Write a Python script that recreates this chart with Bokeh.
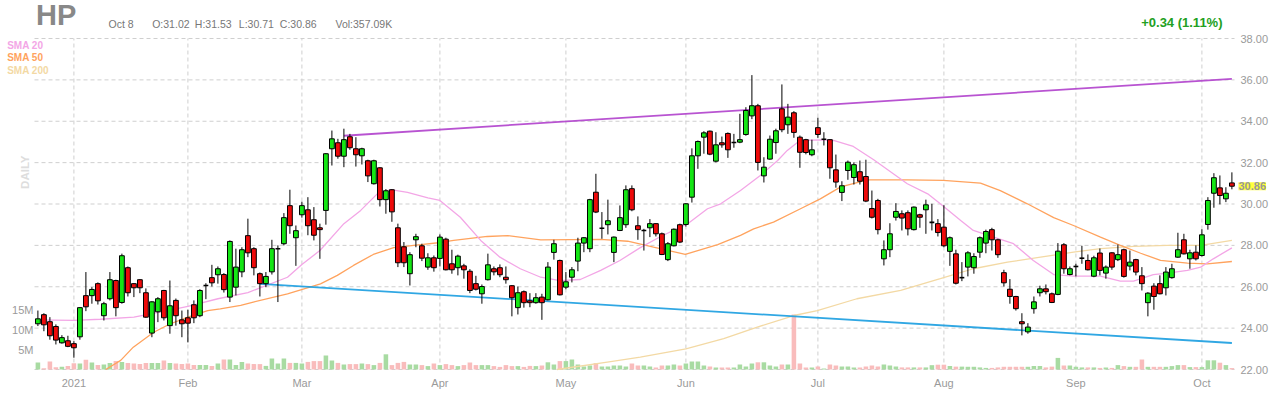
from bokeh.plotting import figure
from bokeh.models import Range1d, LinearAxis, FixedTicker, Label, PrintfTickFormatter
from bokeh.embed import file_html
from bokeh.resources import INLINE
import math

# ---------------- data (trading-session index 0 = 2020-12-23 ... 199 = 2021-10-08) ----------------
opens = [24.21, 24.65, 24.31, 24.08, 23.29, 23.39, 23.25, 23.58, 25.57, 25.57,
         26.15, 24.60, 25.42, 26.30, 25.24, 26.92, 26.15, 26.34, 25.71, 23.76,
         24.79, 25.82, 24.12, 25.34, 24.40, 24.50, 25.13, 24.60, 26.06, 26.44,
         26.58, 26.59, 25.50, 25.98, 26.72, 28.47, 27.84, 26.63, 26.15, 26.72,
         27.84, 28.08, 29.92, 28.37, 29.48, 29.72, 29.24, 28.85, 29.69, 32.67,
         32.96, 32.31, 33.25, 32.67, 32.33, 32.09, 30.98, 31.75, 30.21, 30.69,
         28.85, 27.93, 26.63, 28.27, 27.98, 26.95, 27.40, 27.37, 28.30, 27.11,
         26.92, 27.01, 26.75, 26.15, 25.66, 26.34, 26.87, 26.92, 26.46, 26.05,
         24.99, 25.76, 25.32, 25.23, 25.50, 25.37, 27.66, 27.27, 25.98, 26.46,
         27.24, 28.11, 27.84, 30.57, 28.83, 29.00, 27.66, 28.72, 29.00, 30.74,
         28.95, 28.72, 28.85, 29.05, 28.56, 27.31, 27.98, 29.00, 29.01, 30.33,
         32.33, 33.23, 33.52, 32.07, 32.96, 33.41, 32.97, 32.99, 33.36, 34.26,
         34.75, 31.36, 32.17, 32.97, 34.60, 33.83, 34.41, 33.23, 33.11, 32.38,
         33.69, 33.13, 33.11, 31.65, 30.56, 31.62, 31.28, 31.56, 31.33, 29.78,
         30.17, 27.35, 27.79, 29.36, 29.53, 29.58, 28.76, 29.48, 29.72, 29.11,
         29.05, 28.88, 27.71, 27.59, 26.44, 26.95, 26.92, 27.67, 28.11, 28.76,
         28.27, 26.68, 25.88, 25.53, 24.31, 23.82, 24.94, 25.71, 25.90, 25.66,
         25.63, 28.03, 26.59, 26.98, 27.38, 27.27, 26.51, 27.63, 26.66, 27.64,
         27.31, 27.79, 27.00, 27.31, 26.53, 25.23, 26.03, 26.15, 25.95, 26.44,
         27.43, 28.27, 27.35, 27.67, 27.51, 29.01, 30.52, 30.78, 30.25, 31.02]
highs = [24.85, 24.72, 24.53, 24.18, 23.66, 23.63, 23.37, 25.01, 26.71, 25.98,
         26.21, 25.27, 26.71, 26.34, 27.60, 26.98, 26.17, 26.37, 25.92, 25.30,
         25.50, 25.85, 26.30, 25.43, 24.85, 24.89, 25.34, 25.88, 26.17, 27.06,
         26.98, 26.66, 28.24, 27.84, 27.91, 29.29, 27.91, 26.69, 26.71, 28.27,
         28.00, 29.56, 30.69, 28.96, 30.11, 30.33, 29.85, 29.05, 32.46, 33.55,
         33.15, 33.64, 33.39, 33.23, 32.72, 32.14, 32.14, 31.78, 30.72, 30.72,
         29.05, 28.16, 27.67, 28.56, 28.08, 27.62, 27.51, 28.53, 28.37, 27.79,
         27.55, 27.11, 26.85, 26.53, 26.11, 27.60, 26.98, 27.08, 26.98, 26.08,
         26.01, 25.82, 25.69, 25.69, 25.66, 27.19, 28.27, 27.31, 26.71, 26.95,
         28.37, 28.40, 30.25, 31.46, 29.61, 30.21, 28.43, 29.93, 30.90, 30.90,
         29.40, 28.80, 29.27, 29.07, 28.62, 28.16, 28.82, 29.05, 30.04, 32.69,
         33.07, 33.52, 33.55, 33.47, 33.26, 33.46, 33.39, 34.36, 34.68, 36.23,
         34.84, 32.26, 33.31, 33.64, 35.78, 34.84, 34.49, 33.31, 33.15, 33.11,
         34.17, 33.47, 33.13, 32.39, 31.10, 32.10, 32.01, 32.10, 32.14, 30.65,
         30.25, 28.24, 29.07, 30.04, 29.69, 29.69, 29.88, 29.53, 30.21, 30.01,
         29.27, 29.94, 28.43, 27.79, 27.19, 27.72, 27.62, 28.43, 28.76, 28.85,
         28.32, 26.82, 26.37, 25.56, 24.72, 24.24, 25.53, 26.05, 26.11, 25.72,
         28.11, 28.11, 26.98, 27.11, 27.98, 27.56, 27.50, 27.85, 27.03, 27.67,
         28.04, 27.84, 27.75, 27.35, 26.95, 25.74, 26.17, 26.55, 26.95, 27.11,
         28.61, 28.56, 27.79, 28.00, 28.78, 30.33, 31.49, 31.38, 30.81, 31.53]
lows = [24.10, 23.85, 23.44, 23.21, 23.25, 23.08, 22.57, 23.44, 24.82, 25.18,
        25.14, 24.37, 25.34, 24.57, 25.18, 25.53, 25.50, 25.69, 24.50, 23.56,
        24.29, 24.37, 23.73, 24.12, 23.56, 23.31, 24.24, 24.53, 25.40, 26.01,
        26.15, 25.72, 25.26, 25.58, 26.46, 27.43, 26.55, 25.53, 25.98, 26.59,
        25.26, 28.00, 28.56, 27.01, 29.34, 28.49, 28.24, 27.35, 29.00, 31.86,
        32.19, 31.78, 32.62, 31.81, 31.91, 31.06, 30.94, 29.88, 29.53, 29.14,
        26.95, 26.95, 26.06, 27.91, 27.24, 26.82, 26.73, 26.98, 26.79, 26.63,
        26.55, 26.39, 25.69, 25.82, 25.18, 26.30, 26.55, 26.46, 26.15, 24.57,
        24.66, 24.99, 25.01, 25.18, 24.40, 25.34, 27.31, 25.58, 25.88, 26.21,
        26.75, 27.67, 27.67, 29.56, 28.32, 28.53, 27.19, 28.69, 28.85, 29.65,
        28.27, 27.75, 28.40, 28.43, 27.53, 27.24, 27.95, 28.11, 28.91, 30.07,
        31.70, 32.43, 32.36, 32.01, 32.72, 32.23, 32.72, 32.94, 33.30, 34.10,
        31.62, 31.04, 32.14, 32.43, 33.47, 33.39, 33.20, 31.75, 32.40, 32.31,
        33.20, 32.83, 31.22, 30.79, 30.14, 31.17, 30.94, 30.94, 30.09, 29.30,
        28.53, 27.03, 27.43, 29.20, 28.72, 28.48, 28.72, 28.85, 28.56, 28.72,
        28.43, 27.91, 27.01, 26.11, 26.27, 26.50, 26.63, 27.40, 27.62, 27.75,
        27.40, 26.01, 25.18, 24.85, 23.65, 23.73, 24.70, 25.53, 25.63, 25.21,
        25.59, 26.63, 26.55, 26.50, 27.11, 26.79, 26.46, 26.55, 26.39, 26.82,
        27.24, 26.44, 26.79, 26.55, 25.82, 24.57, 24.89, 25.63, 25.58, 26.39,
        27.40, 27.56, 26.87, 27.27, 27.46, 28.76, 29.82, 29.98, 30.09, 30.71]
closes = [24.45, 24.16, 23.63, 23.42, 23.54, 23.12, 23.05, 24.99, 25.03, 25.87,
          25.32, 25.18, 26.34, 24.99, 27.50, 25.71, 25.95, 25.95, 24.53, 25.27,
          25.42, 24.50, 25.08, 24.60, 24.21, 24.24, 24.50, 25.82, 26.06, 26.19,
          26.87, 25.86, 28.19, 26.95, 27.79, 27.64, 26.92, 26.15, 26.50, 27.84,
          27.84, 29.34, 28.95, 28.71, 29.92, 28.95, 28.49, 28.76, 32.43, 33.15,
          32.31, 33.11, 32.72, 32.38, 32.67, 31.36, 32.09, 30.21, 30.64, 29.62,
          27.16, 27.16, 27.55, 28.42, 27.38, 27.40, 26.92, 28.40, 26.82, 26.82,
          27.48, 26.82, 25.82, 25.88, 26.01, 27.06, 26.72, 26.58, 26.34, 25.47,
          25.71, 25.23, 25.23, 25.47, 25.23, 26.95, 28.08, 25.61, 26.24, 26.82,
          28.11, 28.37, 30.21, 29.61, 28.83, 29.19, 28.40, 29.34, 30.69, 29.72,
          28.76, 28.72, 29.05, 28.56, 27.56, 28.08, 28.78, 28.16, 30.01, 32.33,
          33.02, 33.44, 32.41, 32.86, 32.86, 32.62, 32.97, 33.11, 34.52, 34.75,
          32.01, 31.78, 33.13, 33.54, 33.59, 34.20, 33.46, 32.50, 32.49, 32.62,
          33.36, 33.13, 31.75, 31.06, 30.88, 32.02, 31.90, 31.10, 30.14, 29.36,
          28.76, 27.79, 28.56, 29.64, 29.32, 28.80, 29.85, 29.36, 29.96, 29.11,
          28.62, 27.98, 28.37, 26.17, 26.44, 27.64, 27.46, 28.37, 28.67, 28.27,
          27.55, 26.19, 25.53, 24.94, 24.21, 24.05, 25.27, 25.90, 25.76, 25.24,
          27.72, 26.87, 26.87, 26.98, 27.38, 26.82, 27.40, 26.79, 26.95, 26.95,
          27.55, 26.50, 27.19, 26.71, 26.15, 25.69, 25.53, 25.66, 26.71, 26.87,
          27.79, 27.59, 27.64, 27.35, 28.51, 30.17, 31.27, 30.41, 30.52, 30.86]
volumes_m = [1.75, 0.3, 2.0, 0.55, 0.7, 0.85, 1.55, 1.5, 2.45, 1.75,
             1.1, 1.25, 1.65, 2.1, 1.9, 1.65, 1.5, 1.35, 1.65, 1.65,
             1.65, 2.25, 1.65, 1.5, 1.35, 1.5, 1.1, 1.1, 1.1, 0.85,
             1.5, 2.5, 2.5, 1.1, 1.9, 1.5, 1.35, 1.35, 0.9, 2.75,
             1.5, 2.75, 1.65, 1.65, 1.5, 1.9, 2.1, 2.1, 3.5, 2.25,
             1.65, 1.25, 1.35, 1.35, 1.5, 1.35, 1.1, 1.65, 3.8, 1.1,
             1.65, 1.9, 1.25, 1.25, 1.1, 0.85, 1.5, 1.1, 1.35, 1.1,
             0.85, 1.1, 1.75, 1.1, 1.1, 1.1, 0.85, 0.65, 1.1, 0.85,
             0.85, 0.65, 0.9, 0.85, 1.0, 1.8, 1.25, 2.1, 2.1, 2.5,
             1.25, 0.75, 1.0, 1.6, 0.75, 0.75, 1.0, 1.0, 0.75, 1.5,
             1.0, 1.0, 0.75, 0.5, 1.0, 1.0, 1.25, 1.0, 1.5, 2.0,
             2.0, 1.0, 0.75, 0.5, 0.5, 0.5, 0.5, 1.25, 0.75, 1.5,
             1.8, 1.8, 1.0, 0.75, 1.25, 1.25, 13.75, 1.5, 0.5, 0.5,
             0.75, 0.25, 1.25, 1.0, 0.75, 0.75, 0.5, 0.5, 0.75, 1.0,
             0.75, 1.25, 1.0, 0.75, 0.52, 0.52, 0.52, 0.52, 0.52, 1.08,
             1.2, 1.2, 0.88, 0.72, 0.72, 0.68, 0.68, 0.52, 0.4, 0.4,
             0.52, 0.68, 0.68, 0.68, 0.68, 0.68, 0.88, 0.88, 0.52, 0.72,
             2.9, 1.0, 1.0, 0.68, 0.52, 0.52, 0.52, 0.4, 0.5, 0.4,
             1.1, 0.85, 0.67, 0.67, 2.5, 0.67, 0.67, 0.67, 0.67, 0.85,
             1.1, 1.1, 0.6, 0.6, 0.6, 2.3, 2.3, 1.7, 1.1, 0.35709]

month_start_idx = [6, 25, 44, 67, 88, 108, 130, 151, 173, 194]
month_labels = ["2021", "Feb", "Mar", "Apr", "May", "Jun", "Jul", "Aug", "Sep", "Oct"]
last_session_label = "Oct 8"
ticker_symbol = "HP"

sma20_idx = [-0.5, 6, 10.4, 16, 21.6, 25, 30, 35, 41.6, 44, 47, 51, 53.8, 56.6, 58.8, 61.6, 65, 67,
             70.4, 73.8, 77, 80.4, 83.8, 87, 90.4, 93.8, 97, 100.4, 103.8, 108.3, 111.6, 113.8, 117.1,
             120.4, 123.3, 124.9, 127, 130.4, 132.6, 135.9, 139.3, 144.9, 148.3, 150.4, 153.8, 155.9,
             159.3, 162.6, 165.9, 169.3, 172.6, 177.1, 180.4, 182.6, 185.9, 188.3, 191.6, 193.8, 195.9, 199]
sma20_val = [24.40, 24.37, 24.43, 24.53, 24.85, 25.05, 25.42, 25.72, 26.46, 27.08, 27.75, 29.05, 29.69,
             30.50, 30.69, 30.56, 30.30, 30.17, 29.36, 28.24, 27.43, 26.87, 26.46, 26.30, 26.35, 26.79,
             27.27, 27.89, 28.43, 29.05, 29.77, 30.01, 30.65, 31.38, 32.10, 32.59, 33.07, 33.10, 33.07,
             32.78, 32.14, 30.98, 30.49, 30.01, 29.20, 28.72, 28.40, 28.08, 27.27, 26.59, 26.51, 26.51,
             26.27, 26.27, 26.59, 26.66, 26.79, 26.95, 27.35, 27.88]
sma50_idx = [11.3, 13.8, 15.9, 19.3, 22, 25, 28.3, 30.4, 33.8, 35.9, 41.6, 47.1, 49.9, 52.6, 55.9,
             59.3, 63.8, 67.1, 69.3, 74.9, 78.3, 83.8, 93.8, 98.3, 102.6, 107.9, 113.3, 117.1, 119.3,
             122.6, 127.1, 130.4, 133.8, 138.3, 144.9, 150.9, 157.1, 160.4, 164.9, 169.3, 172.6, 177.1,
             180.4, 183.8, 187.1, 191.6, 194.9, 199]
sma50_val = [22.00, 22.44, 23.08, 23.80, 24.20, 24.53, 24.85, 24.93, 25.10, 25.26, 25.66, 26.14,
             26.55, 27.03, 27.56, 27.89, 28.04, 28.14, 28.24, 28.43, 28.47, 28.27, 28.29, 28.20, 27.91,
             27.56, 28.04, 28.48, 28.80, 29.12, 29.77, 30.25, 30.83, 31.17, 31.17, 31.14, 31.01, 30.65,
             30.01, 29.34, 28.96, 28.40, 28.00, 27.62, 27.27, 27.14, 27.11, 27.22]
sma200_idx = [86.5, 94.9, 100.4, 108.0, 114.3, 119.9, 126.0, 129.9, 136.5, 143.8, 150.4, 155.9,
              161.6, 167.1, 172.6, 177.1, 182.6, 188.3, 193.8, 199]
sma200_val = [22.00, 22.36, 22.60, 23.00, 23.49, 24.05, 24.61, 24.85, 25.42, 25.82, 26.39, 26.87,
              27.19, 27.43, 27.67, 27.84, 27.95, 28.00, 28.00, 28.24]
resistance_idx = [51, 199]
resistance_val = [33.30, 36.05]
support_idx = [37, 199]
support_val = [26.14, 23.28]

price_ticks = [22, 24, 26, 28, 30, 32, 34, 36, 38]
vol_ticks = [5, 10, 15]
vol_tick_labels = ["5M", "10M", "15M"]

# ---------------- styling ----------------
FONT = "Liberation Sans"
UP, DOWN = "#14e614", "#ee0a0a"
VUP, VDOWN = "#a8dba2", "#f9bcbc"
C20, C50, C200 = "#f3a6e6", "#ffa35e", "#f3d9a4"
GRID = "#cfcfcf"

W, H = 1280, 400
PX_X = 6.0                # pixels per session
PX_Y = 331 / 16           # pixels per price unit
X0 = -37.4 / PX_X         # session value at the figure's left edge
x_lo, x_hi = X0, X0 + W / PX_X
y_lo, y_hi = 22 - 31 / PX_Y, 38 + 38 / PX_Y
x_left_edge = X0 + 34 / PX_X       # left edge of the price area
x_right_edge = X0 + 1234 / PX_X    # right edge of the price area

n = len(closes)
idx = list(range(n))

p = figure(width=W, height=H, x_range=Range1d(x_lo, x_hi), y_range=Range1d(y_lo, y_hi),
           y_axis_location="right", output_backend="svg", toolbar_location=None,
           min_border=0, min_border_left=0, min_border_right=0, min_border_top=0, min_border_bottom=0)
p.extra_y_ranges = {"vol": Range1d(-31 / 4, 369 / 4)}
p.outline_line_color = None
p.background_fill_color = "white"
p.border_fill_color = "white"
p.xgrid.visible = False
p.ygrid.visible = False

# axes (drawn at fixed locations at the edges of the price area)
xa = p.xaxis[0]
xa.ticker = FixedTicker(ticks=month_start_idx)
xa.major_label_overrides = {m: l for m, l in zip(month_start_idx, month_labels)}
xa.major_label_standoff = 7
xa.fixed_location = 22

ya = p.yaxis[0]
ya.ticker = FixedTicker(ticks=price_ticks)
ya.formatter = PrintfTickFormatter(format="%.2f")
ya.major_label_standoff = 6
ya.fixed_location = x_right_edge

va = LinearAxis(y_range_name="vol", ticker=FixedTicker(ticks=vol_ticks),
                major_label_overrides={t: l for t, l in zip(vol_ticks, vol_tick_labels)},
                fixed_location=x_left_edge)
p.add_layout(va, "left")
va.major_label_standoff = 1

for ax in [xa, ya, va]:
    ax.axis_line_color = None
    ax.major_tick_line_color = None
    ax.minor_tick_line_color = None
    ax.major_tick_out = 0
    ax.major_tick_in = 0
    ax.minor_tick_out = 0
    ax.minor_tick_in = 0
    ax.major_label_text_color = "#9a9a9a"
    ax.major_label_text_font = FONT
    ax.major_label_text_font_size = "11px"

# dashed grid restricted to the price area
p.segment(x0=[x_left_edge] * len(price_ticks), x1=[x_right_edge] * len(price_ticks),
          y0=price_ticks, y1=price_ticks, line_color=GRID, line_dash="4 3", line_width=1)
p.segment(x0=month_start_idx, x1=month_start_idx, y0=[22] * len(month_start_idx),
          y1=[38] * len(month_start_idx), line_color=GRID, line_dash="4 3", line_width=1)

# volume
vol_colors = [VUP if c >= o else VDOWN for o, c in zip(opens, closes)]
p.vbar(x=idx, top=volumes_m, bottom=0, width=0.76, y_range_name="vol",
       fill_color=vol_colors, line_color=None)

# moving averages & trend lines
p.line(sma200_idx, sma200_val, line_color=C200, line_width=1.3)
p.line(sma50_idx, sma50_val, line_color=C50, line_width=1.3)
p.line(sma20_idx, sma20_val, line_color=C20, line_width=1.3)
p.line(resistance_idx, resistance_val, line_color="#b040cc", line_width=1.8, line_alpha=0.9)
p.line(support_idx, support_val, line_color="#1a9de0", line_width=1.8, line_alpha=0.9)

# candles
p.segment(x0=idx, y0=lows, x1=idx, y1=highs, line_color="black", line_width=1)
body_x = [i for i in idx if opens[i] != closes[i]]
p.vbar(x=body_x, top=[max(opens[i], closes[i]) for i in body_x],
       bottom=[min(opens[i], closes[i]) for i in body_x], width=0.8,
       fill_color=[UP if closes[i] > opens[i] else DOWN for i in body_x],
       line_color="black", line_width=1)
doji = [i for i in idx if opens[i] == closes[i]]
p.segment(x0=[i - 0.4 for i in doji], x1=[i + 0.4 for i in doji],
          y0=[closes[i] for i in doji], y1=[closes[i] for i in doji],
          line_color="black", line_width=1.6)

def lab(text, x, y, size, color, bold=False, y_units="screen", **kw):
    p.add_layout(Label(x=x, y=y, x_units="screen", y_units=y_units, text=text,
                       text_font=FONT, text_font_size=size, text_color=color,
                       text_font_style="bold" if bold else "normal", **kw))

top = 370.7
lab(ticker_symbol, 35.5, 369.3, "29px", "#888888", bold=True)
lab(last_session_label, 108, top, "10.5px", "#777777")
lab(f"O:{opens[-1]:.2f}", 151.7, top, "10.5px", "#777777")
lab(f"H:{highs[-1]:.2f}", 194.3, top, "10.5px", "#777777")
lab(f"L:{lows[-1]:.2f}", 238.3, top, "10.5px", "#777777")
lab(f"C:{closes[-1]:.2f}", 279.3, top, "10.5px", "#777777")
lab(f"Vol:{volumes_m[-1] * 1000:.2f}K", 335, top, "10.5px", "#777777")
chg = closes[-1] - closes[-2]
lab(f"{chg:+.2f} ({chg / closes[-2] * 100:.2f}%)", 1222, 370.5, "13px", "#22a022", bold=True,
    text_align="right")
lab("SMA 20", 6.7, 349.7, "10px", C20, bold=True)
lab("SMA 50", 6.7, 337.3, "10px", C50, bold=True)
lab("SMA 200", 6.7, 325.0, "10px", C200, bold=True)
lab("DAILY", 24, 228.3, "11.5px", "#dddddd", bold=True, angle=math.pi / 2,
    text_align="center", text_baseline="middle")
lab(f"{closes[-1]:.2f}", 1238, closes[-1], "11px", "#999999", bold=True, y_units="data",
    text_baseline="middle", background_fill_color="#ffff3c")

open("out.html", "w").write(file_html(p, INLINE))
